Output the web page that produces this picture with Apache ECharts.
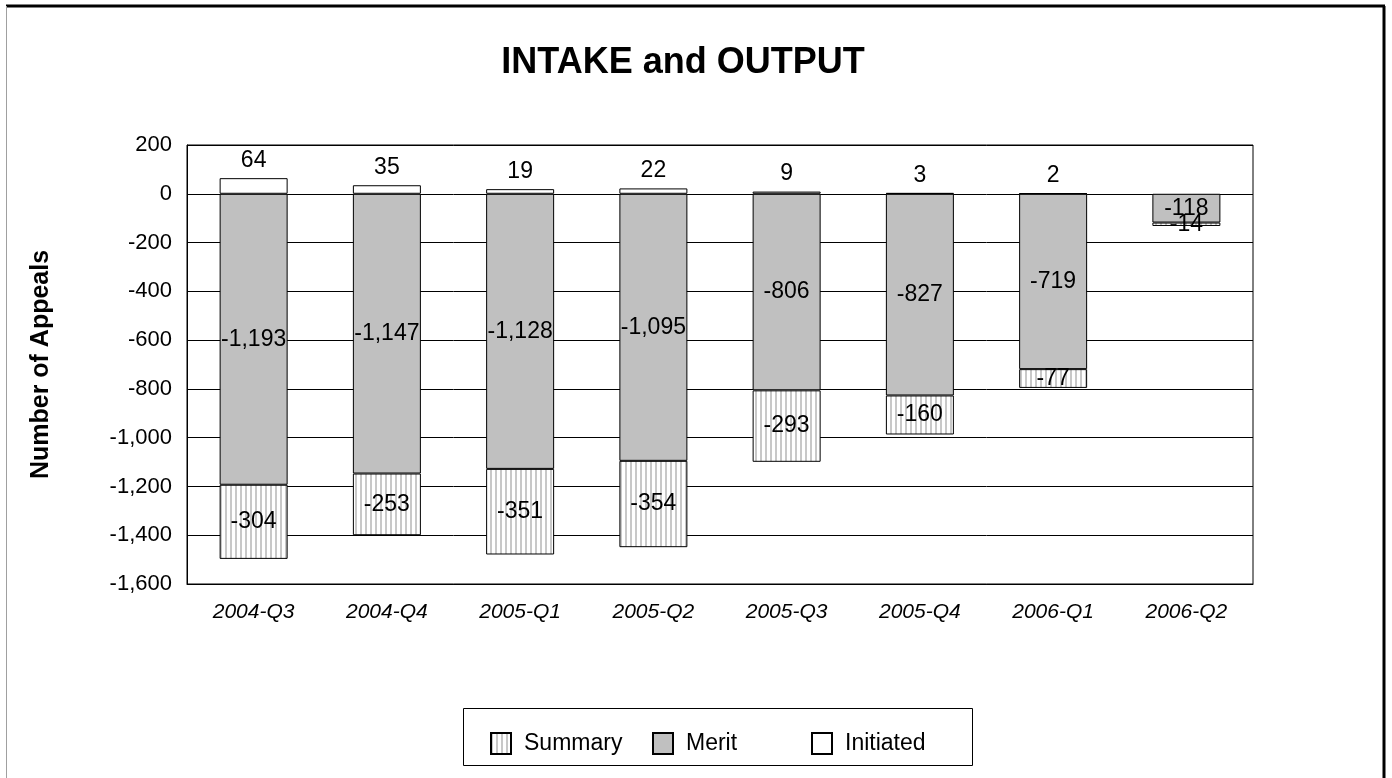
<!DOCTYPE html>
<html>
<head>
<meta charset="utf-8">
<script src="https://cdn.jsdelivr.net/npm/echarts@6/dist/echarts.min.js"></script>
<style>
  html, body { margin: 0; padding: 0; background: #fff; }
  #chart { width: 1392px; height: 778px; }
</style>
</head>
<body>
<div id="chart"></div>
<script>
// Data
const quarters = ["2004-Q3", "2004-Q4", "2005-Q1", "2005-Q2", "2005-Q3", "2005-Q4", "2006-Q1", "2006-Q2"];
const initiated = [64, 35, 19, 22, 9, 3, 2, null];
const merit = [-1193, -1147, -1128, -1095, -806, -827, -719, -118];
const summary = [-304, -253, -351, -354, -293, -160, -77, -14];

const FONT = "'Liberation Sans', Arial, sans-serif";

// vertical stripe pattern for Summary
const stripe = document.createElement("canvas");
stripe.width = 5;
stripe.height = 5;
const sctx = stripe.getContext("2d");
sctx.fillStyle = "#ffffff";
sctx.fillRect(0, 0, 5, 5);
sctx.fillStyle = "#c8c8c8";
sctx.fillRect(0, 0, 2, 5);

const fmt = (v) => Number(v).toLocaleString("en-US");

const chart = echarts.init(document.getElementById("chart"));

const labelBase = {
  show: true,
  color: "#000",
  fontFamily: FONT,
  fontSize: 23,
  formatter: (p) => fmt(p.value),
};

const legendCommon = {
  icon: "rect",
  itemWidth: 20,
  itemHeight: 21,
  itemGap: 0,
  top: 727,
  textStyle: { fontFamily: FONT, fontSize: 23, color: "#000", padding: [0, 0, 0, 8] },
};

const option = {
  animation: false,
  backgroundColor: "#fff",
  title: {
    text: "INTAKE and OUTPUT",
    left: 678,
    top: 40,
    textAlign: "center",
    textStyle: { fontFamily: FONT, fontSize: 36, fontWeight: "bold", color: "#000" },
  },
  legend: [
    { ...legendCommon, left: 485, data: ["Summary"] },
    { ...legendCommon, left: 647, data: ["Merit"] },
    { ...legendCommon, left: 806, data: ["Initiated"] },
  ],
  grid: {
    left: 187,
    right: 139,
    top: 145,
    bottom: 194,
    show: true,
    borderColor: "#000",
    borderWidth: 1,
    containLabel: false,
  },
  xAxis: {
    type: "category",
    data: quarters,
    axisLine: { onZero: false, lineStyle: { color: "#000" } },
    axisTick: { show: false },
    axisLabel: {
      margin: 18,
      fontFamily: FONT,
      fontSize: 21,
      fontStyle: "italic",
      color: "#000",
    },
  },
  yAxis: {
    type: "value",
    min: -1600,
    max: 200,
    interval: 200,
    name: "Number of Appeals",
    nameLocation: "middle",
    nameGap: 133,
    nameTextStyle: { fontFamily: FONT, fontSize: 25, fontWeight: "bold", color: "#000" },
    axisLine: { show: true, lineStyle: { color: "#000" } },
    axisTick: { show: false },
    axisLabel: {
      margin: 15,
      fontFamily: FONT,
      fontSize: 22,
      color: "#000",
      formatter: (v) => fmt(v),
    },
    splitLine: { show: true, lineStyle: { color: "#000", width: 1 } },
  },
  series: [
    {
      name: "Merit",
      type: "bar",
      stack: "total",
      barWidth: 68,
      data: merit,
      itemStyle: { color: "#c0c0c0", borderColor: "#000", borderWidth: 1 },
      label: { ...labelBase, position: "inside" },
    },
    {
      name: "Summary",
      type: "bar",
      stack: "total",
      data: summary,
      itemStyle: { color: { image: stripe, repeat: "repeat" }, borderColor: "#000", borderWidth: 1 },
      label: { ...labelBase, position: "inside" },
    },
    {
      name: "Initiated",
      type: "bar",
      stack: "total",
      data: initiated,
      itemStyle: { color: "#fff", borderColor: "#000", borderWidth: 1 },
      label: { ...labelBase, position: "top", distance: 6 },
    },
  ],
  graphic: [
    // outer frame
    { type: "line", shape: { x1: 6, y1: 6, x2: 1385, y2: 6 }, style: { stroke: "#000", lineWidth: 3 } },
    { type: "line", shape: { x1: 1384, y1: 6, x2: 1384, y2: 778 }, style: { stroke: "#000", lineWidth: 3 } },
    { type: "line", shape: { x1: 6.5, y1: 6, x2: 6.5, y2: 778 }, style: { stroke: "#a0a0a0", lineWidth: 1 } },
    // legend box
    { type: "rect", shape: { x: 463.5, y: 708.5, width: 509, height: 57 }, style: { fill: null, stroke: "#000", lineWidth: 1 }, z: 0 },
  ],
};

chart.setOption(option);
</script>
</body>
</html>
